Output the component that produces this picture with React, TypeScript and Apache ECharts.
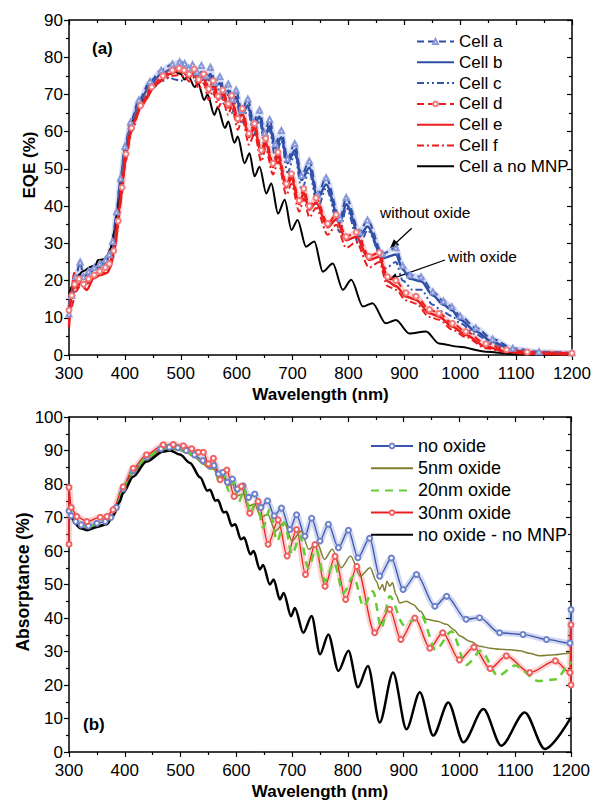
import React, { useEffect, useRef } from 'react';
import * as echarts from 'echarts';

const FONT = 'Arial, Liberation Sans, Helvetica, sans-serif';

type P = [number, number];

// ---------- Panel (a): EQE (%) ----------
const legendA = ['Cell a', 'Cell b', 'Cell c', 'Cell d', 'Cell e', 'Cell f', 'Cell a no MNP'];

const cellA: P[] = [
  [300, 11], [305, 16], [312, 21], [320, 25], [326, 21], [335, 22.5], [345, 23.5], [355, 24.5], [365, 25.5], [372, 27],
  [378, 30.5], [385, 38.5], [392, 47.5], [400, 56], [410, 62.5], [425, 68.5], [445, 73.5], [465, 76.5], [485, 78.2], [498, 78.8],
  [507, 78.3], [514, 77], [521, 78], [529, 76], [537, 77.8], [545, 75], [553, 77.3], [561, 73.2], [570, 74.8], [577, 71.2],
  [585, 72.8], [592, 68.7], [599, 71.2], [609, 65.7], [620, 68.8], [630, 62.7], [641, 65.8], [650, 59.7], [659, 63.3], [669, 56.7],
  [680, 60.3], [691, 52.7], [704, 56.8], [716, 48.2], [730, 52.1], [745, 43.2], [760, 47.6], [785, 36.7], [796, 42.3], [820, 33],
  [834, 36.3], [861, 27.2], [885, 28.8], [897, 24], [910, 21.5], [930, 21], [951, 17], [970, 14.5], [985, 13], [1000, 10.5],
  [1028, 7.3], [1058, 4.3], [1094, 1.8], [1141, 0.9], [1200, 0.6],
];

const cellB: P[] = [
  [300, 13], [304, 17], [310, 20], [318, 21.5], [325, 20.5], [335, 22], [345, 23], [355, 24], [365, 25], [372, 26.5],
  [378, 29.5], [385, 37.5], [392, 46.5], [400, 55], [410, 61.5], [425, 67.5], [445, 72.5], [465, 75.5], [485, 77], [497, 77.5],
  [507, 77], [514, 75.8], [521, 76.8], [529, 74.8], [537, 76], [545, 73.8], [553, 75.5], [561, 72], [570, 73], [577, 70],
  [585, 71], [592, 67.5], [599, 69.4], [609, 64.5], [620, 67], [630, 61.5], [641, 64], [650, 58.5], [659, 61.5], [669, 55.5],
  [680, 58.5], [691, 51.5], [704, 55], [716, 47], [730, 50.3], [745, 42], [760, 45.8], [785, 35.5], [796, 40.5], [820, 31.8],
  [834, 34.5], [861, 26], [885, 27], [897, 23], [910, 20.5], [930, 19.8], [951, 16], [970, 13.5], [985, 12], [1000, 9.5],
  [1028, 6.3], [1058, 3.5], [1094, 1.3], [1141, 0.5], [1200, 0.3],
];

const cellC: P[] = [
  [300, 10], [305, 14], [312, 19], [320, 20.5], [330, 21], [340, 21.5], [350, 23], [360, 24], [370, 25.5], [378, 28.5],
  [385, 36.5], [392, 45.5], [400, 54], [410, 60.5], [425, 66.5], [445, 71], [465, 73.5], [480, 74.5], [490, 74], [500, 73.6],
  [510, 74.5], [521, 75.5], [529, 73], [537, 74.8], [545, 72], [553, 74.5], [561, 69.5], [570, 72], [577, 67.5], [585, 70],
  [592, 65], [599, 68.4], [609, 62], [620, 66], [630, 59], [641, 63], [650, 56], [659, 60.5], [669, 53], [680, 57.5],
  [691, 49], [704, 54], [716, 44.5], [730, 49.3], [745, 39.5], [760, 44.8], [785, 33], [796, 39.5], [820, 29.3], [834, 33.5],
  [867, 23.3], [885, 25], [897, 20], [915, 17.5], [930, 17.5], [951, 13.5], [970, 11.5], [985, 10.5], [1000, 8.5], [1028, 5.5],
  [1058, 3], [1094, 1], [1141, 0.4], [1200, 0.2],
];

const cellD: P[] = [
  [300, 12], [305, 16], [310, 19], [318, 20.5], [326, 19], [335, 20.5], [345, 21.5], [355, 22.5], [365, 23.5], [372, 24.5],
  [380, 28], [388, 36], [395, 45], [402, 54], [412, 61], [428, 67], [448, 72], [468, 75], [485, 76.5], [497, 77],
  [506, 76.5], [515, 75.5], [524, 76.8], [532, 74], [541, 75.5], [550, 71.5], [558, 73.7], [567, 69.5], [575, 71.2], [585, 67.5],
  [591, 69.7], [602, 63.5], [610, 66.2], [622, 59.5], [632, 62.2], [644, 55], [652, 58.2], [665, 51.5], [674, 54.5], [689, 46],
  [698, 48.7], [712, 41.5], [720, 44.7], [730, 40], [742, 42.2], [763, 35.3], [778, 37.7], [796, 31.8], [814, 33], [837, 26.5],
  [855, 27.5], [870, 21], [885, 20], [903, 16.7], [921, 15.8], [945, 12.2], [962, 11.2], [986, 8.5], [1010, 6.3], [1046, 3],
  [1083, 1.4], [1120, 0.8], [1200, 0.5],
];

const cellE: P[] = [
  [300, 7.5], [305, 17.5], [309, 22], [314, 18], [320, 19.3], [332, 17.5], [344, 20.6], [356, 21.5], [368, 22], [374, 23.5],
  [382, 29], [391, 40], [397, 48], [403, 55.5], [415, 62.5], [433, 68], [457, 73], [480, 75.5], [495, 76.3], [505, 75.8],
  [515, 74.5], [524, 75.8], [532, 73], [541, 74.5], [550, 70.5], [558, 72.5], [567, 68.5], [575, 70], [585, 66.5], [591, 68.5],
  [602, 62.5], [610, 65], [622, 58.5], [632, 61], [644, 54], [652, 57], [665, 50.5], [674, 53.3], [689, 45], [698, 47.5],
  [712, 40.5], [720, 43.5], [730, 39], [742, 41], [763, 34.3], [778, 36.5], [796, 30.8], [814, 31.8], [837, 25.5], [855, 26.4],
  [870, 19.8], [885, 18.5], [903, 15.7], [921, 14.8], [945, 11.2], [962, 10.3], [986, 7.6], [1010, 5.4], [1046, 2.2], [1083, 0.9],
  [1120, 0.4], [1200, 0.2],
];

const cellF: P[] = [
  [300, 9], [305, 13], [312, 17], [320, 18.5], [330, 19], [340, 20], [350, 21], [360, 22], [370, 22.5], [378, 25.5],
  [386, 33], [394, 43], [401, 52], [412, 60], [428, 66.5], [448, 71.5], [468, 74], [485, 75], [497, 75.2], [506, 74.8],
  [515, 73.5], [524, 74.5], [532, 71.5], [541, 73], [550, 68.5], [558, 71], [567, 66.5], [575, 68.5], [585, 64.5], [591, 67],
  [602, 60.5], [610, 63.5], [622, 56.5], [632, 59.5], [644, 52], [652, 55.5], [665, 48.5], [674, 52], [689, 43], [698, 46],
  [712, 38.5], [720, 42], [730, 37], [742, 39.5], [763, 32.3], [778, 35], [796, 28.8], [814, 30.3], [837, 23.5], [855, 25],
  [870, 18.5], [885, 17.5], [903, 14.7], [921, 13.8], [945, 10.2], [962, 9.5], [986, 6.8], [1010, 4.8], [1046, 1.8], [1083, 0.7],
  [1120, 0.3], [1200, 0.1],
];

const cellANoMNP: P[] = [
  [300, 16], [305, 18.5], [314, 21], [325, 22.5], [340, 23.8], [347, 24], [352, 25.5], [362, 25.7], [368, 26.5], [374, 28.5],
  [382, 33.5], [390, 42], [397, 48.5], [403, 56], [415, 63], [433, 68.5], [457, 73], [480, 75.5], [490, 76], [500, 75.5],
  [507, 74], [513, 75], [525, 72], [531, 73], [542, 68.5], [548, 70], [560, 64.5], [566, 66.5], [579, 61], [585, 62.7],
  [596, 57], [602, 58.7], [614, 51.5], [623, 54.2], [632, 48], [641, 50.6], [653, 43.4], [662, 46.1], [674, 38], [686, 41.7],
  [698, 33.6], [709, 36.3], [724, 29.1], [739, 30.5], [754, 22.4], [772, 24.6], [790, 17.5], [805, 20.2], [826, 13], [843, 13.9],
  [867, 8.5], [885, 9.4], [909, 5.8], [939, 6.3], [962, 3.1], [998, 2.2], [1046, 0.9], [1100, 0.2], [1200, 0],
];

// ---------- Panel (b): Absorptance (%) ----------
const legendB = ['no oxide', '5nm oxide', '20nm oxide', '30nm oxide', 'no oxide - no MNP'];

const absNoOxide: P[] = [
  [300, 72], [304, 70.5], [312, 68.8], [322, 67.8], [335, 67.5], [350, 68.3], [365, 68.8], [375, 70], [385, 73], [397, 78.5],
  [415, 84], [440, 88], [465, 90.5], [480, 91], [495, 90.8], [510, 90], [525, 88.7], [540, 87], [552, 85.5], [560, 85.5],
  [568, 83], [576, 83.5], [584, 80.5], [593, 81.5], [602, 78.5], [612, 79.5], [622, 76], [633, 77], [644, 73], [656, 75],
  [668, 70.5], [681, 72.8], [696, 66.4], [708, 70.8], [723, 64.4], [735, 69.8], [750, 63], [765, 68], [783, 61], [801, 66.2],
  [818, 58], [839, 63.8], [857, 52.5], [878, 57.9], [899, 48.5], [923, 53], [956, 43.5], [977, 46.5], [1012, 39.6], [1036, 40.1],
  [1072, 35.6], [1114, 35.1], [1156, 33.6], [1198, 32.5], [1200, 42.5],
];

const abs5nm: P[] = [
  [300, 71], [305, 69.5], [312, 68], [322, 67], [335, 66.8], [350, 67.5], [365, 68], [375, 69.3], [385, 72.2], [397, 77.8],
  [415, 83.3], [440, 87.5], [465, 90], [480, 90.5], [495, 90.2], [510, 89.5], [525, 88], [540, 86], [552, 84.5], [560, 84.5],
  [568, 82], [576, 82.3], [584, 79.5], [593, 80], [602, 76.5], [612, 77], [622, 73.5], [633, 74], [644, 70], [656, 71],
  [670, 66], [686, 68.5], [700, 63], [716, 66], [730, 60.5], [745, 62.5], [758, 57.5], [772, 60.5], [788, 55], [805, 58.5],
  [822, 52.5], [840, 55], [851, 51], [857, 48.5], [862, 50], [866, 48], [870, 51], [875, 49.5], [880, 50.5], [886, 47],
  [893, 44.5], [905, 45], [917, 44], [930, 42], [941, 39.6], [960, 39], [977, 38.1], [990, 36.5], [1001, 34.6], [1020, 33],
  [1036, 31.6], [1055, 31], [1072, 30.7], [1090, 30.5], [1108, 30.2], [1125, 29.5], [1144, 28.7], [1170, 29], [1195, 29.5], [1200, 30],
];

const abs20nm: P[] = [
  [300, 71.5], [305, 70], [312, 68.5], [322, 67.5], [335, 67.2], [350, 68], [365, 68.5], [375, 69.8], [385, 72.6], [397, 78.2],
  [415, 83.8], [440, 88], [465, 90.4], [480, 90.9], [495, 90.6], [510, 89.8], [525, 88.3], [540, 86.5], [552, 85.5], [560, 86],
  [568, 81], [577, 83.5], [586, 78], [595, 81], [604, 74.5], [614, 78.5], [625, 71], [636, 75.5], [648, 67], [660, 72.5],
  [673, 63], [686, 68.5], [700, 59], [714, 64.5], [729, 55], [743, 60.5], [759, 51], [775, 56.5], [792, 47.5], [810, 52.5],
  [828, 43.5], [845, 48], [860, 37], [875, 46.5], [900, 38], [932, 40.6], [957, 30.5], [986, 36], [1012, 26], [1039, 30.2],
  [1069, 22.7], [1100, 25.8], [1141, 21.2], [1174, 21.7], [1195, 25.7], [1200, 27],
];

const abs30nm: P[] = [
  [300, 62], [300, 79], [304, 73], [314, 70.3], [332, 68.8], [356, 70.1], [368, 70.3], [379, 72.3], [397, 79.2], [415, 84.7],
  [439, 88.7], [469, 91.7], [487, 91.8], [505, 91.4], [520, 90.5], [532, 89.5], [541, 89.5], [550, 86], [559, 87.7], [571, 81.3],
  [583, 84.2], [596, 76.3], [609, 79.3], [624, 71.3], [639, 74.8], [657, 62], [675, 69.3], [691, 58.5], [708, 66.4], [724, 53],
  [741, 61.9], [759, 49.5], [777, 58.4], [796, 45.5], [816, 55.4], [848, 35.6], [875, 42.6], [895, 33.6], [920, 40], [947, 31],
  [970, 35.6], [1000, 27.5], [1026, 31.3], [1055, 24.9], [1084, 28.7], [1126, 23.7], [1172, 27.2], [1198, 23.7], [1200, 38], [1200, 20],
];

const absNoMNP: P[] = [
  [300, 73.5], [305, 70], [312, 68], [320, 66.8], [332, 66.2], [350, 67.2], [368, 68], [379, 70.5], [390, 74.5], [397, 77.3],
  [415, 82.2], [439, 86.7], [469, 89.7], [481, 90], [499, 88.8], [517, 86.3], [535, 82], [548, 78], [553, 78.3], [562, 75],
  [567, 75.2], [577, 71.5], [582, 71.7], [592, 67.5], [598, 68], [608, 63.5], [614, 64], [625, 59], [631, 60], [642, 54.5],
  [648, 55.8], [660, 50], [667, 51.5], [678, 45.5], [685, 47.5], [698, 40.5], [705, 43], [720, 35.6], [735, 40.6], [750, 29.2],
  [765, 35.1], [783, 24.2], [801, 30.2], [818, 19.3], [836, 25.7], [857, 8.8], [881, 23.7], [905, 6.8], [929, 17.8], [953, 4.9],
  [980, 14.8], [1007, 2.9], [1043, 12.8], [1075, 1.9], [1117, 11.8], [1153, 0.9], [1200, 10.3],
];

const plain = (v: number) => String(v);

function xAxes(gridIndex: number) {
  const common = {
    gridIndex, type: 'value', min: 300, max: 1200, interval: 100,
    splitLine: { show: false },
    axisLine: { show: true, onZero: false, lineStyle: { color: '#000', width: 1.5 } },
    minorTick: { show: true, splitNumber: 2, length: 3, lineStyle: { color: '#000', width: 1.2 } },
  };
  return [
    {
      ...common, position: 'bottom',
      axisTick: { show: true, inside: false, length: 5, lineStyle: { color: '#000', width: 1.2 } },
      axisLabel: { show: true, fontSize: 17, color: '#000', fontFamily: FONT, margin: 10, formatter: plain, showMinLabel: true, showMaxLabel: true },
      name: 'Wavelength (nm)', nameLocation: 'middle', nameGap: 31,
      nameTextStyle: { fontSize: 17, fontWeight: 'bold', color: '#000', fontFamily: FONT },
    },
    {
      ...common, position: 'top',
      axisTick: { show: true, inside: true, length: 5, lineStyle: { color: '#000', width: 1.2 } },
      axisLabel: { show: false },
    },
  ];
}

function yAxes(gridIndex: number, max: number) {
  const common = {
    gridIndex, type: 'value', min: 0, max, interval: 10,
    splitLine: { show: false },
    axisLine: { show: true, onZero: false, lineStyle: { color: '#000', width: 1.5 } },
    minorTick: { show: true, splitNumber: 2, length: 3, lineStyle: { color: '#000', width: 1.2 } },
  };
  return [
    {
      ...common, position: 'left',
      axisTick: { show: true, inside: false, length: 5, lineStyle: { color: '#000', width: 1.2 } },
      axisLabel: { show: true, fontSize: 17, color: '#000', fontFamily: FONT, margin: 6, formatter: plain, showMinLabel: true, showMaxLabel: true },
    },
    {
      ...common, position: 'right',
      axisTick: { show: true, inside: true, length: 5, lineStyle: { color: '#000', width: 1.2 } },
      axisLabel: { show: false },
    },
  ];
}

function lineSeries(name: string, data: P[], axisIdx: number, color: string, width: number, type: any, extra: any = {}) {
  return {
    name, type: 'line', data,
    xAxisIndex: axisIdx, yAxisIndex: axisIdx,
    smooth: 0.3, smoothMonotone: 'x',
    showSymbol: false, symbol: 'none',
    lineStyle: { color, width, type },
    itemStyle: { color },
    emphasis: { disabled: true },
    ...extra,
  };
}

function band(data: P[], axisIdx: number, color: string, width: number) {
  return {
    name: '_band', type: 'line', data, xAxisIndex: axisIdx, yAxisIndex: axisIdx,
    smooth: 0.3, smoothMonotone: 'x', showSymbol: false, symbol: 'none', silent: true,
    lineStyle: { color, width }, emphasis: { disabled: true },
  };
}

const BLUE = '#2f4fa6';
const RED = '#ee1d1d';
const noSym = { itemStyle: { opacity: 0 } };

export default function App() {
  const ref = useRef<HTMLDivElement>(null);
  useEffect(() => {
    const chart = echarts.init(ref.current!, null, { renderer: 'svg' });
    const option: any = {
      animation: false,
      backgroundColor: '#fff',
      textStyle: { fontFamily: FONT },
      grid: [
        { left: 69, top: 20, width: 503, height: 335 },
        { left: 69, top: 417, width: 502, height: 336 },
      ],
      xAxis: [...xAxes(0), ...xAxes(1)],
      yAxis: [...yAxes(0, 90), ...yAxes(1, 100)],
      legend: [
        {
          data: legendA.map((n) => (n === 'Cell a' || n === 'Cell d' ? { name: n } : { name: n, ...noSym })),
          orient: 'vertical', left: 411, top: 28,
          itemWidth: 37, itemHeight: 6, itemGap: 3.8, selectedMode: false,
          textStyle: { fontSize: 17, color: '#000', fontFamily: FONT },
        },
        {
          data: legendB.map((n) => (n === 'no oxide' || n === '30nm oxide' ? { name: n } : { name: n, ...noSym })),
          orient: 'vertical', left: 365, top: 432,
          itemWidth: 42, itemHeight: 6, itemGap: 4.2, selectedMode: false,
          textStyle: { fontSize: 18, color: '#000', fontFamily: FONT },
        },
      ],
      series: [
        band(cellA, 0, 'rgba(120,140,215,0.3)', 5),
        lineSeries('Cell a', cellA, 0, BLUE, 2, [7, 4], {
          showSymbol: true, symbol: 'emptyTriangle', symbolSize: 5, itemStyle: { color: '#8797d8' },
        }),
        lineSeries('Cell b', cellB, 0, BLUE, 2.5, 'solid'),
        lineSeries('Cell c', cellC, 0, '#3554b0', 2, [7, 3, 2, 3, 2, 3]),
        lineSeries('Cell a no MNP', cellANoMNP, 0, '#000', 2, 'solid'),
        band(cellD, 0, 'rgba(245,120,120,0.3)', 5),
        lineSeries('Cell d', cellD, 0, RED, 2, [7, 4], {
          showSymbol: true, symbol: 'emptyCircle', symbolSize: 5, itemStyle: { color: '#f27a7a' },
        }),
        lineSeries('Cell e', cellE, 0, RED, 2.5, 'solid'),
        lineSeries('Cell f', cellF, 0, RED, 2, [7, 3, 2, 3]),

        band(absNoOxide, 2, 'rgba(110,130,210,0.3)', 6),
        lineSeries('no oxide', absNoOxide, 2, '#3a55ad', 1.3, 'solid', {
          showSymbol: true, symbol: 'emptyCircle', symbolSize: 5, itemStyle: { color: '#6f82cc' },
        }),
        band(abs30nm, 2, 'rgba(245,110,110,0.3)', 6),
        lineSeries('30nm oxide', abs30nm, 2, '#e82020', 1.3, 'solid', {
          showSymbol: true, symbol: 'emptyCircle', symbolSize: 5, itemStyle: { color: '#f06060' },
        }),
        lineSeries('5nm oxide', abs5nm, 2, '#808033', 1.5, 'solid'),
        lineSeries('20nm oxide', abs20nm, 2, '#66cc33', 2.5, [8, 6]),
        lineSeries('no oxide - no MNP', absNoMNP, 2, '#000', 2.5, 'solid'),
      ],
      graphic: [
        { type: 'text', x: 29, y: 165, rotation: Math.PI / 2, style: { text: 'EQE (%)', font: `bold 17px ${FONT}`, fill: '#000', textAlign: 'center', textVerticalAlign: 'middle' } },
        { type: 'text', x: 23, y: 582, rotation: Math.PI / 2, style: { text: 'Absorptance (%)', font: `bold 17.5px ${FONT}`, fill: '#000', textAlign: 'center', textVerticalAlign: 'middle' } },
        { type: 'text', x: 92, y: 48, style: { text: '(a)', font: `bold 17px ${FONT}`, fill: '#000', textAlign: 'left', textVerticalAlign: 'middle' } },
        { type: 'text', x: 83, y: 724, style: { text: '(b)', font: `bold 17px ${FONT}`, fill: '#000', textAlign: 'left', textVerticalAlign: 'middle' } },
        { type: 'text', x: 380, y: 212, style: { text: 'without oxide', font: `15.5px ${FONT}`, fill: '#000', textAlign: 'left', textVerticalAlign: 'middle' } },
        { type: 'text', x: 448, y: 256, style: { text: 'with oxide', font: `15.5px ${FONT}`, fill: '#000', textAlign: 'left', textVerticalAlign: 'middle' } },
        { type: 'line', shape: { x1: 411.7, y1: 228.3, x2: 395, y2: 243.7 }, style: { stroke: '#000', lineWidth: 1.3 } },
        { type: 'polygon', shape: { points: [[390, 248.3], [399.3, 245.1], [393.9, 239.3]] }, style: { fill: '#000' } },
        { type: 'line', shape: { x1: 445, y1: 260, x2: 395, y2: 277.6 }, style: { stroke: '#000', lineWidth: 1.3 } },
        { type: 'polygon', shape: { points: [[388.3, 280], [398.1, 280.8], [395.5, 273.2]] }, style: { fill: '#000' } },
      ],
    };
    chart.setOption(option);
    return () => chart.dispose();
  }, []);
  return <div ref={ref} style={{ position: 'absolute', left: 0, top: 0, width: 602, height: 801, background: '#fff' }} />;
}
